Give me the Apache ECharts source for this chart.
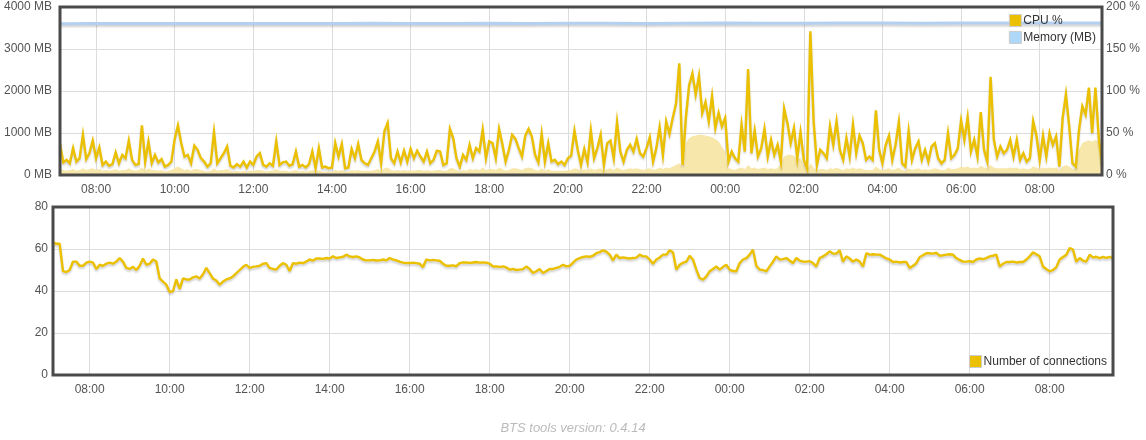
<!DOCTYPE html>
<html>
<head>
<meta charset="utf-8">
<script src="https://cdn.jsdelivr.net/npm/echarts@6/dist/echarts.min.js"></script>
<style>
  html, body { margin: 0; padding: 0; background: #fff; }
  #chart { width: 1146px; height: 440px; }
</style>
</head>
<body>
<div id="chart"></div>
<script>
// ---- time categories: 5-minute samples starting 07:05 ----
const START_MINUTE = 425;   // 07:05
const STEP_MINUTES = 5;
const TICK_LABELS = ['08:00','10:00','12:00','14:00','16:00','18:00','20:00','22:00','00:00','02:00','04:00','06:00'];

// ---- CPU % (right axis), one row per hour ----
const CPU_PCT = [
  38,15,18,14,32,16,20,48,19,26,41,
  20,33,12,16,11,13,27,14,24,20,41,18,
  12,13,59,16,40,14,24,15,19,10,12,16,
  43,59,38,22,24,14,35,30,20,16,10,14,
  51,14,20,26,34,11,9,13,10,16,9,16,
  12,22,26,12,10,14,11,40,12,15,16,11,
  13,28,10,12,9,13,28,8,32,9,10,8,
  9,38,22,37,8,9,31,20,37,18,14,12,
  20,28,40,14,52,62,20,14,28,15,29,16,
  31,20,29,22,16,28,14,18,29,28,12,14,
  55,44,20,10,24,18,36,20,32,28,54,20,
  40,38,20,55,37,16,30,48,43,32,22,47,
  55,46,24,15,49,16,38,16,18,13,16,12,
  20,23,53,30,12,31,15,53,20,32,48,12,
  38,41,20,63,28,16,30,36,28,43,26,22,
  32,45,16,32,57,24,64,49,68,85,133,12,
  68,107,121,96,118,74,87,64,94,56,74,58,
  68,16,28,20,16,60,28,126,26,53,22,32,
  55,22,42,24,36,16,79,62,38,56,20,51,
  18,8,171,64,12,30,26,20,58,36,64,30,
  18,44,22,60,26,47,38,18,22,18,77,30,
  14,36,47,18,36,63,14,10,52,18,32,40,
  18,30,16,34,38,20,14,18,50,20,24,32,
  65,42,69,28,42,22,75,30,16,117,42,22,
  34,26,30,42,22,42,18,26,16,20,64,47,
  18,47,22,50,36,46,10,68,96,58,14,10,
  54,82,72,104,50,104,45,12
];

// ---- lighter filled CPU band under the line ----
const CPU_FILL = [
  8,6,5,6,7,5,6,8,6,7,8,
  6,7,5,6,5,6,7,5,6,6,8,6,
  5,6,9,5,8,6,6,5,6,4,5,6,
  8,10,8,6,7,5,7,7,6,5,4,5,
  8,5,6,6,7,5,4,5,4,5,4,5,
  5,6,6,5,4,5,5,7,5,5,5,4,
  5,6,4,5,4,5,6,4,6,4,4,4,
  4,6,5,6,4,4,6,5,6,5,5,5,
  5,6,7,5,8,9,6,5,6,5,6,5,
  6,5,6,6,5,6,5,5,6,6,5,5,
  8,8,6,4,6,5,7,6,7,6,9,6,
  7,7,6,9,7,5,6,8,8,7,6,8,
  9,8,6,5,8,5,7,5,5,5,5,5,
  6,6,8,7,5,7,6,8,6,7,8,5,
  7,8,6,9,7,6,7,8,7,8,7,6,
  7,8,6,7,9,7,9,8,10,12,14,10,
  38,44,46,47,48,48,47,46,45,43,40,34,
  28,8,7,6,8,9,7,12,8,9,7,8,
  9,7,8,7,8,14,22,24,24,23,19,20,
  12,6,14,9,6,7,7,6,8,7,9,7,
  6,8,7,9,7,8,7,6,6,6,10,7,
  6,7,8,6,7,9,6,5,8,6,7,8,
  6,7,6,7,8,7,6,6,9,7,7,8,
  10,9,10,8,9,8,11,9,8,12,9,8,
  8,8,8,9,8,9,7,8,7,7,10,9,
  7,9,8,9,8,9,6,10,12,10,7,8,
  30,38,40,41,40,42,40,10
];

// ---- Memory (MB), hourly readings ----
const MEMORY_MB = [3600,3605,3605,3610,3610,3605,3610,3610,3615,3610,3610,3615,3610,3615,
                   3615,3610,3615,3620,3615,3615,3620,3620,3615,3620,3620,3620,3620,3620];
const MEMORY_AT = [0,11,23,35,47,59,71,83,95,107,119,131,143,155,
                   167,179,191,203,215,227,239,251,263,275,287,299,311,318];

// ---- Number of connections ----
const CONNECTIONS = [
  63,62.5,62.5,49.5,49,50,54,54,52,52,53.5,
  54,53.5,50.5,52.5,52,53,53.5,53,54,55.7,54,51,
  50.5,51.5,50,52,55.5,52.5,53,55,54,46,44.5,43,
  39.5,40,45.5,41,46,45.5,45.5,46.5,47,46,48,51,
  48.5,46,45,43,44.5,45.5,46,47,48.5,50,51.5,52.5,
  51,51.5,51.7,52,53,53.3,51,50.5,50.2,52,53.3,52.5,
  49.5,53.3,53,53.5,53.3,54,55,54.5,55.5,55.5,55.3,55.7,
  55.5,56.5,55.7,56,56.3,57.3,56.5,56.2,56.5,56,55,54.6,
  54.6,54.8,54.5,54.6,55,54.6,55.7,55,54.6,54,53.5,53.3,
  53.3,53.5,53.3,53,51.4,55,54.6,54.8,54.6,54.4,53,52,
  52,52.2,51.8,53.3,53.6,53.6,53.4,53.6,53.8,53.5,53.6,53.5,
  53,51.7,51.7,51.5,51.7,51.2,50.2,50.5,50,50.2,50.4,51.7,
  50.5,48.6,49.4,50.5,48.6,49.5,50.5,50.5,51,51.5,52.5,51.7,
  52,53.5,55,55.7,56.2,56.5,56.3,56.8,58,58.5,59.4,58.8,
  57.3,54.6,57.3,55.7,56,55.7,55.5,55.7,55.9,57.3,56.5,56.5,
  55,53,55,56,57.3,57.3,59.4,58.4,50.2,52.5,53.5,54,
  56.8,55,50.2,46.2,45.4,47,49.4,50.5,51.7,50.2,51.5,52.5,
  50.2,49.5,49.4,53.3,55,55.7,57.3,59.7,52,50.2,50,49.4,
  51.7,54,56.5,55,55.2,55.7,54.5,53.3,55.7,54.5,54,54,
  54.2,53.3,51.7,55.7,56.5,57.5,58.9,57.8,57.8,59.4,54,56.5,
  55.5,54,55,54,51.7,58,57.3,57.5,57.3,57.3,56.5,55.5,
  55,53.8,54,53.6,53.8,53.8,51,52,53.3,56.2,57,58,
  58,57.8,58.2,56.8,57,57.3,57.5,57.3,55.7,54.8,54,54,
  54.2,53.8,55,55.5,55.2,55.7,56.5,56.8,57.3,51.7,53,53.8,
  53.8,54,53.6,53.8,53.8,55,56.5,58.4,57.5,56.5,51.7,50.5,
  49.4,50,51.4,55,56.2,57.3,60.5,59.7,54,55.7,54.5,54,
  57.3,56,56.3,55.7,56.2,55.8,56.3,55.7
];

// ---- build categories ----
function fmt(m) {
  const h = Math.floor(m / 60) % 24, mm = m % 60;
  return (h < 10 ? '0' : '') + h + ':' + (mm < 10 ? '0' : '') + mm;
}
const categories = CPU_PCT.map((_, i) => fmt(START_MINUTE + i * STEP_MINUTES));
const tickSet = new Set(TICK_LABELS);
const showTick = (idx, val) => tickSet.has(val);

const YELLOW = '#ebc000';
const FONT = "'Liberation Sans', Arial, Helvetica, sans-serif";
const LABEL = { color: '#545454', fontSize: 12, fontFamily: FONT };
const GRIDLINE = { lineStyle: { color: '#dcdcdc', width: 1 } };
const SHADOW = { shadowColor: 'rgba(0,0,0,0.18)', shadowBlur: 2, shadowOffsetY: 2 };

function xAxis(gridIndex) {
  return {
    type: 'category', gridIndex, data: categories, boundaryGap: false,
    axisLine: { show: false }, axisTick: { show: false },
    axisLabel: Object.assign({ interval: showTick, margin: 9 }, LABEL),
    splitLine: Object.assign({ show: true, interval: showTick }, GRIDLINE)
  };
}

const chart = echarts.init(document.getElementById('chart'), null, { renderer: 'canvas' });
chart.setOption({
  animation: false,
  backgroundColor: '#ffffff',
  title: {
    text: 'BTS tools version: 0.4.14', left: 'center', top: 417,
    textStyle: { fontStyle: 'italic', fontWeight: 'normal', fontSize: 13, color: '#bbbbbb', fontFamily: FONT }
  },
  legend: [
    {
      data: ['CPU %', 'Memory (MB)'], orient: 'vertical', right: 50, top: 14,
      padding: 0, itemGap: 4, itemWidth: 12, itemHeight: 12, icon: 'rect',
      itemStyle: { borderColor: '#cccccc', borderWidth: 1 },
      textStyle: { color: '#333', fontSize: 12, fontFamily: FONT, padding: [0, 0, 0, -3] },
      selectedMode: false
    },
    {
      data: ['Number of connections'], orient: 'vertical', right: 39, top: 355,
      padding: 0, itemWidth: 12, itemHeight: 12, icon: 'rect',
      itemStyle: { borderColor: '#cccccc', borderWidth: 1 },
      textStyle: { color: '#333', fontSize: 12, fontFamily: FONT, padding: [0, 0, 0, -3] },
      selectedMode: false
    }
  ],
  grid: [
    { left: 60, top: 7, width: 1042, height: 168, show: true, borderColor: '#4a4a4a', borderWidth: 3, z: 5 },
    { left: 53, top: 207, width: 1060, height: 168, show: true, borderColor: '#4a4a4a', borderWidth: 3, z: 5 }
  ],
  xAxis: [xAxis(0), xAxis(1)],
  yAxis: [
    { type: 'value', gridIndex: 0, min: 0, max: 4000, interval: 1000,
      axisLine: { show: false }, axisTick: { show: false },
      axisLabel: Object.assign({ formatter: v => v + ' MB', margin: 8 }, LABEL),
      splitLine: GRIDLINE },
    { type: 'value', gridIndex: 0, position: 'right', min: 0, max: 200, interval: 50,
      axisLine: { show: false }, axisTick: { show: false },
      axisLabel: Object.assign({ formatter: v => v + ' %', margin: 4 }, LABEL),
      splitLine: { show: false } },
    { type: 'value', gridIndex: 1, min: 0, max: 80, interval: 20,
      axisLine: { show: false }, axisTick: { show: false },
      axisLabel: Object.assign({ margin: 5 }, LABEL),
      splitLine: GRIDLINE }
  ],
  series: [
    { name: 'CPU fill', type: 'line', xAxisIndex: 0, yAxisIndex: 1, data: CPU_FILL,
      showSymbol: false, silent: true, z: 2,
      lineStyle: { width: 0, opacity: 0 },
      areaStyle: { color: '#f7e7ab', opacity: 1 } },
    { name: 'CPU %', type: 'line', xAxisIndex: 0, yAxisIndex: 1, data: CPU_PCT,
      showSymbol: false, z: 3, color: YELLOW,
      lineStyle: Object.assign({ width: 2.4, color: YELLOW, join: 'miter' }, SHADOW) },
    { name: 'Memory (MB)', type: 'line', xAxisIndex: 0, yAxisIndex: 0,
      data: MEMORY_MB.map((v, i) => [MEMORY_AT[i], v]),
      showSymbol: false, z: 3, color: '#afd8f8',
      lineStyle: Object.assign({ width: 3, color: '#b3d0f0' }, SHADOW) },
    { name: 'Number of connections', type: 'line', xAxisIndex: 1, yAxisIndex: 2, data: CONNECTIONS,
      showSymbol: false, z: 3, color: YELLOW,
      lineStyle: Object.assign({ width: 2.4, color: YELLOW }, SHADOW) }
  ]
});
</script>
</body>
</html>
